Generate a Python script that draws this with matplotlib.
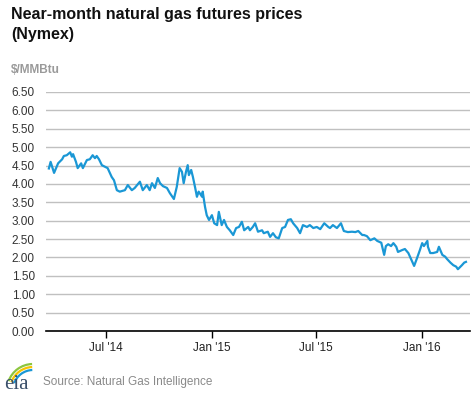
#!/usr/bin/env python3
from matplotlib import pyplot as plt
from matplotlib.patches import Arc
import pandas as pd

plt.rcParams['font.family'] = ['Liberation Sans', 'DejaVu Sans']

# near-month futures price, $/MMBtu
dates = [
  '2014-03-24', '2014-03-27', '2014-04-02', '2014-04-09', '2014-04-16', '2014-04-19',
  '2014-04-24', '2014-04-30', '2014-05-03', '2014-05-05', '2014-05-10', '2014-05-13',
  '2014-05-19', '2014-05-22', '2014-05-29', '2014-06-03', '2014-06-08', '2014-06-12',
  '2014-06-15', '2014-06-19', '2014-06-24', '2014-06-29', '2014-07-04', '2014-07-11',
  '2014-07-15', '2014-07-20', '2014-07-25', '2014-08-03', '2014-08-08', '2014-08-15',
  '2014-08-20', '2014-08-29', '2014-09-03', '2014-09-10', '2014-09-15', '2014-09-19',
  '2014-09-24', '2014-09-29', '2014-10-03', '2014-10-08', '2014-10-15', '2014-10-20',
  '2014-10-27', '2014-11-01', '2014-11-06', '2014-11-10', '2014-11-13', '2014-11-17',
  '2014-11-20', '2014-11-22', '2014-11-26', '2014-11-29', '2014-12-03', '2014-12-06',
  '2014-12-09', '2014-12-15', '2014-12-16', '2014-12-20', '2014-12-23', '2014-12-27',
  '2015-01-01', '2015-01-05', '2015-01-10', '2015-01-13', '2015-01-18', '2015-01-22',
  '2015-01-27', '2015-02-01', '2015-02-07', '2015-02-12', '2015-02-17', '2015-02-22',
  '2015-02-26', '2015-03-05', '2015-03-08', '2015-03-13', '2015-03-17', '2015-03-22',
  '2015-03-29', '2015-04-01', '2015-04-08', '2015-04-12', '2015-04-17', '2015-04-22',
  '2015-04-27', '2015-05-03', '2015-05-08', '2015-05-13', '2015-05-18', '2015-05-22',
  '2015-05-29', '2015-06-03', '2015-06-08', '2015-06-15', '2015-06-20', '2015-06-26',
  '2015-07-02', '2015-07-08', '2015-07-15', '2015-07-22', '2015-07-25', '2015-07-30',
  '2015-08-06', '2015-08-13', '2015-08-18', '2015-08-25', '2015-09-01', '2015-09-07',
  '2015-09-12', '2015-09-19', '2015-09-22', '2015-09-27', '2015-10-03', '2015-10-10',
  '2015-10-15', '2015-10-22', '2015-10-27', '2015-10-30', '2015-11-03', '2015-11-08',
  '2015-11-12', '2015-11-17', '2015-11-20', '2015-11-27', '2015-12-02', '2015-12-08',
  '2015-12-15', '2015-12-18', '2015-12-23', '2015-12-28', '2016-01-01', '2016-01-04',
  '2016-01-10', '2016-01-11', '2016-01-15', '2016-01-20', '2016-01-27', '2016-01-30',
  '2016-02-05', '2016-02-10', '2016-02-13', '2016-02-19', '2016-02-24', '2016-02-29',
  '2016-03-03', '2016-03-10', '2016-03-14', '2016-03-17',
]
prices = [
  4.42, 4.60, 4.30, 4.56, 4.67, 4.76,
  4.78, 4.86, 4.74, 4.81, 4.60, 4.43,
  4.56, 4.43, 4.65, 4.67, 4.78, 4.70,
  4.76, 4.67, 4.51, 4.47, 4.43, 4.19,
  4.10, 3.83, 3.79, 3.83, 3.97, 3.83,
  3.89, 4.06, 3.83, 3.97, 3.83, 4.02,
  3.89, 4.16, 4.02, 3.94, 3.89, 3.75,
  3.59, 3.92, 4.43, 4.33, 4.02, 4.33,
  4.51, 4.24, 4.38, 4.19, 3.89, 3.65,
  3.79, 3.65, 3.79, 3.38, 3.15, 3.02,
  3.15, 2.93, 2.88, 3.24, 2.88, 3.02,
  2.83, 2.74, 2.61, 2.80, 2.83, 2.97,
  2.74, 2.83, 2.74, 2.83, 2.93, 2.70,
  2.74, 2.66, 2.70, 2.56, 2.66, 2.55,
  2.52, 2.80, 2.83, 3.02, 3.04, 2.93,
  2.80, 2.66, 2.88, 2.83, 2.88, 2.80,
  2.83, 2.77, 2.93, 2.83, 2.80, 2.88,
  2.80, 2.93, 2.72, 2.69, 2.70, 2.69,
  2.72, 2.61, 2.61, 2.58, 2.47, 2.52,
  2.45, 2.40, 2.07, 2.31, 2.36, 2.31,
  2.39, 2.29, 2.15, 2.20, 2.23, 2.12,
  1.88, 1.77, 1.98, 2.20, 2.39, 2.31,
  2.45, 2.29, 2.12, 2.12, 2.15, 2.29,
  2.07, 2.02, 1.96, 1.86, 1.79, 1.75,
  1.68, 1.79, 1.86, 1.88,
]
tick_dates = ['2014-07-01', '2015-01-01', '2015-07-01', '2016-01-01']
tick_labels = ["Jul '14", "Jan '15", "Jul '15", "Jan '16"]
y_ticks = [i * 0.5 for i in range(14)]

xs = pd.to_datetime(dates)

fig = plt.figure(figsize=(4.77, 3.93), dpi=100)
ax = fig.add_axes([46/477, 1 - 331/393, 424/477, 239/393])
ax.plot(xs, prices, color='#1a97d5', lw=1.6, solid_joinstyle='round')

ax.set_xlim(pd.Timestamp('2014-03-19'), pd.Timestamp('2016-03-24'))
ax.set_ylim(0, 6.5)
ax.set_yticks(y_ticks)
ax.set_yticklabels(['%.2f' % v for v in y_ticks])
ax.set_xticks(pd.to_datetime(tick_dates))
ax.set_xticklabels(tick_labels)

ax.grid(axis='y', color='#c0c0c0', lw=1)
ax.set_axisbelow(True)
for s in ['top', 'right', 'left']:
  ax.spines[s].set_visible(False)
ax.spines['bottom'].set_color('black')
ax.spines['bottom'].set_linewidth(1.2)
ax.spines['bottom'].set_zorder(5)
ax.tick_params(axis='y', length=0, pad=8, labelsize=8.5, labelcolor='#333333')
ax.tick_params(axis='x', length=5, width=1, color='black', pad=3,
  labelsize=8.5, labelcolor='#222222')

fig.text(11/477, 1 - 19/393, 'Near-month natural gas futures prices',
  fontsize=11.5, fontweight='bold', color='#111111', va='baseline')
fig.text(11/477, 1 - 39/393, '(Nymex)',
  fontsize=11.5, fontweight='bold', color='#111111', va='baseline')
fig.text(11/477, 1 - 73/393, '$/MMBtu',
  fontsize=8.5, fontweight='bold', color='#9a9a9a', va='baseline')
fig.text(43/477, 1 - 385/393, 'Source: Natural Gas Intelligence',
  fontsize=8.5, color='#8a8a8a', va='baseline')

# eia logo: serif letters under three swooshes
fig.text(4/477, 1 - 389/393, 'eia', family=['Liberation Serif', 'DejaVu Serif'],
  fontsize=15, color='#3a4f6a', va='baseline')
lax = fig.add_axes([0, 1 - 380/393, 40/477, 20/393])
lax.set_xlim(0, 40)
lax.set_ylim(0, 20)
lax.axis('off')
for r, col in [(26, '#8cc63f'), (23, '#f5c400'), (20, '#1a97d5')]:
  lax.add_patch(Arc((33, -10), 2 * r, 2 * r, theta1=92, theta2=160,
    color=col, lw=1.6, clip_on=False))

fig.savefig('out.png', dpi=100)
